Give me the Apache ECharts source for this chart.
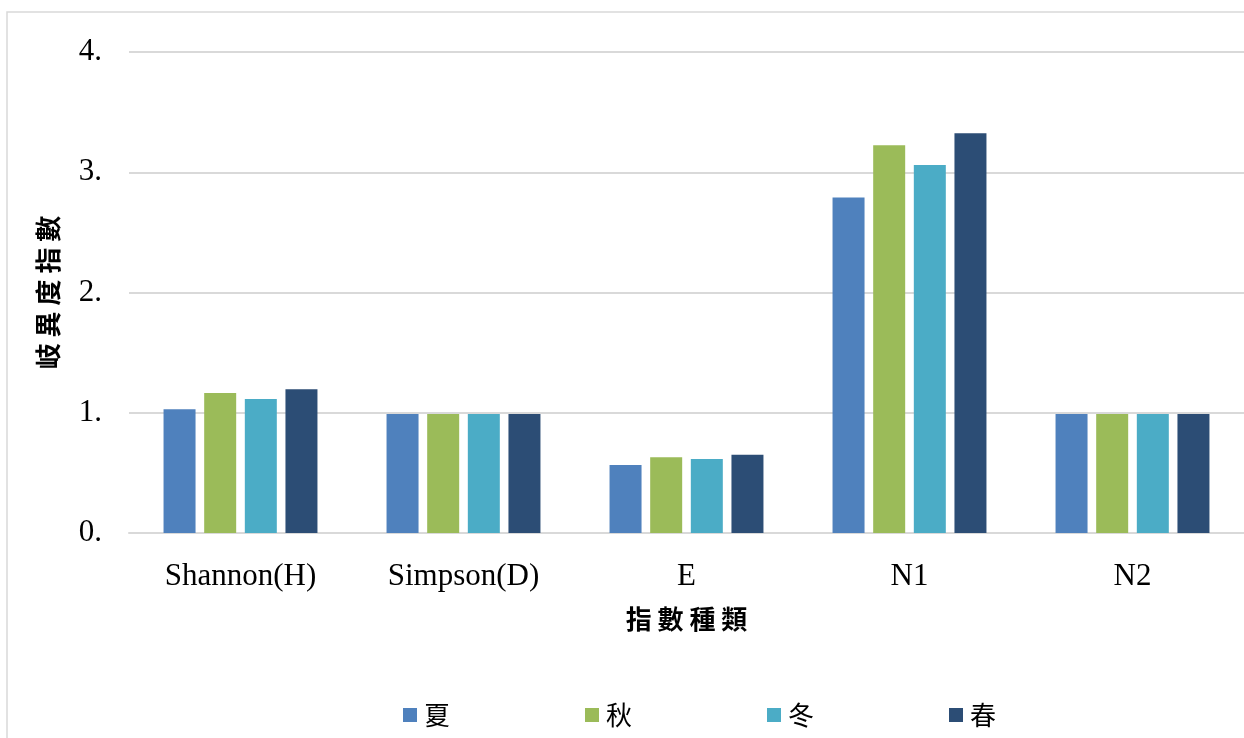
<!DOCTYPE html>
<html>
<head>
<meta charset="utf-8">
<style>
  html, body { margin: 0; padding: 0; background: #ffffff; }
  #chart { width: 1244px; height: 738px; }
</style>
<script src="https://cdn.jsdelivr.net/npm/echarts@6/dist/echarts.min.js"></script>
</head>
<body>
<div id="chart"></div>
<script>
// Diversity indices by season
const categories = ['Shannon(H)', 'Simpson(D)', 'E', 'N1', 'N2'];
const seasons = ['夏', '秋', '冬', '春'];
const summer = [1.03, 0.99, 0.565, 2.79, 0.99];
const autumn = [1.165, 0.99, 0.63, 3.225, 0.99];
const winter = [1.115, 0.99, 0.615, 3.06, 0.99];
const spring = [1.195, 0.99, 0.65, 3.325, 0.99];
const yTicks = [0, 1, 2, 3, 4];

const seriesValues = [summer, autumn, winter, spring];
const colors = ['#4F81BD', '#9BBB59', '#4BACC6', '#2C4D75'];

const latin = '"Liberation Serif", "Times New Roman", serif';
const cjk = '"Noto Sans CJK TC", "Noto Sans CJK SC", sans-serif';

const chart = echarts.init(document.getElementById('chart'), null, { renderer: 'canvas' });

chart.setOption({
  animation: false,
  backgroundColor: '#ffffff',
  color: colors,
  graphic: [{
    type: 'rect',
    shape: { x: 7, y: 12, width: 1260, height: 760 },
    style: { fill: 'none', stroke: '#d9d9d9', lineWidth: 1.5 },
    silent: true
  }],
  grid: { left: 129, top: 52, width: 1118, height: 481, containLabel: false },
  legend: {
    data: seasons,
    left: 398,
    top: 697,
    itemWidth: 14,
    itemHeight: 14,
    itemGap: 135,
    icon: 'rect',
    textStyle: { fontFamily: cjk, fontSize: 26, color: '#000000', padding: [0, 0, 0, 2] }
  },
  xAxis: {
    type: 'category',
    data: categories,
    name: '指 數 種 類',
    nameLocation: 'middle',
    nameGap: 73,
    nameTextStyle: { fontFamily: cjk, fontSize: 26, fontWeight: 'bold', color: '#000000' },
    axisLine: { show: true, lineStyle: { color: '#d9d9d9', width: 2 } },
    axisTick: { show: false },
    axisLabel: { fontFamily: latin, fontSize: 31, color: '#000000', margin: 28 }
  },
  yAxis: {
    type: 'value',
    min: yTicks[0],
    max: yTicks[yTicks.length - 1],
    interval: 1,
    name: '岐 異 度 指 數',
    nameLocation: 'middle',
    nameRotate: 90,
    nameGap: 68,
    nameTextStyle: { fontFamily: cjk, fontSize: 26, fontWeight: 'bold', color: '#000000' },
    axisLine: { show: false },
    axisTick: { show: false },
    splitLine: { show: true, lineStyle: { color: '#d9d9d9', width: 2 } },
    axisLabel: {
      fontFamily: latin, fontSize: 31, color: '#000000', margin: 27,
      formatter: function (v) { return v + '.'; }
    }
  },
  series: seasons.map(function (name, i) {
    return {
      name: name,
      type: 'bar',
      data: seriesValues[i],
      barWidth: 32,
      barGap: '27%',
      itemStyle: { color: colors[i] }
    };
  })
});
</script>
</body>
</html>
